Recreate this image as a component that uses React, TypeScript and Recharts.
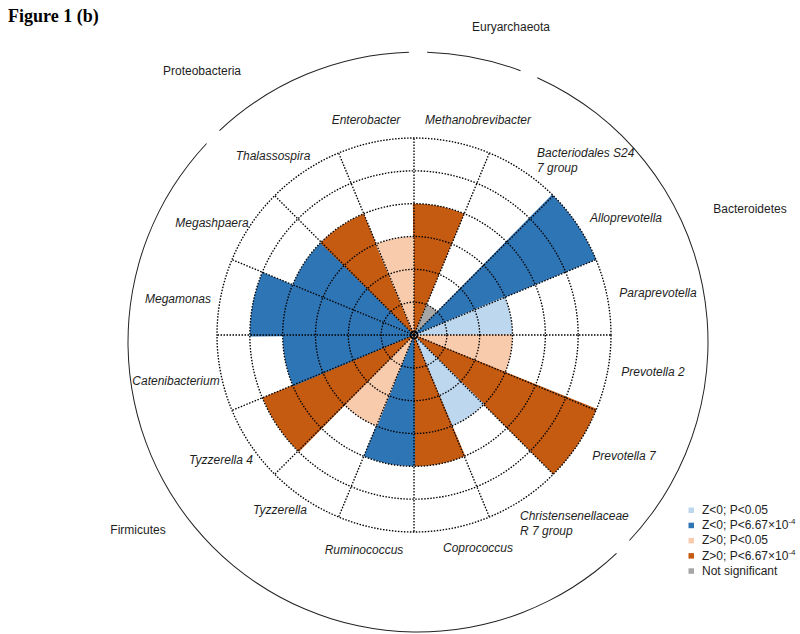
import React from 'react';
import {
  RadialBarChart,
  RadialBar,
  PolarAngleAxis,
  PolarRadiusAxis,
  PolarGrid,
  Cell,
  PieChart,
  Pie,
} from 'recharts';

// Genera, clockwise from 12 o'clock
const genera = [
  'Methanobrevibacter',
  'Bacteriodales S24\n7 group',
  'Alloprevotella',
  'Paraprevotella',
  'Prevotella 2',
  'Prevotella 7',
  'Christensenellaceae\nR 7 group',
  'Coprococcus',
  'Ruminococcus',
  'Tyzzerella',
  'Tyzzerella 4',
  'Catenibacterium',
  'Megamonas',
  'Megashpaera',
  'Thalassospira',
  'Enterobacter',
];
const levels = [4, 1, 6, 3, 3, 6, 3, 4, 4, 3, 5, 4, 5, 4, 4, 3];
const groups = [
  'up2', 'ns', 'down2', 'down1', 'up1', 'up2', 'down1', 'up2',
  'down2', 'up1', 'up2', 'down2', 'down2', 'down2', 'up2', 'up1',
];

const phyla = ['Euryarchaeota', 'Bacteroidetes', 'Firmicutes', 'Proteobacteria'];
const phylumSizes = [1, 5, 8, 2];

const ringTicks = [0, 1, 2, 3, 4, 5, 6];

const legendKeys = ['down1', 'down2', 'up1', 'up2', 'ns'];
const legendLabels = ['Z<0; P<0.05', 'Z<0; P<6.67×10', 'Z>0; P<0.05', 'Z>0; P<6.67×10', 'Not significant'];
const legendSup = ['', '-4', '', '-4', ''];

// styles / layout
const COLORS: Record<string, string> = {
  down1: '#BDD7EE',
  down2: '#2E75B6',
  up1: '#F8CBAD',
  up2: '#C55A11',
  ns: '#A6A6A6',
};
const FONT = '"Liberation Sans", Arial, sans-serif';
const TEXT = '#1e1e1e';
const CX = 414;
const CY = 335;
const OUTER_R = 197;
const START = 90;
const GAP = 3.6;

// text placement of genus labels: [x, baseline y, anchor]
const genusLabelPos: Record<string, [number, number, string]> = {
  'Methanobrevibacter': [478, 124, 'middle'],
  'Bacteriodales S24\n7 group': [537, 157, 'start'],
  'Alloprevotella': [626, 222, 'middle'],
  'Paraprevotella': [658, 297, 'middle'],
  'Prevotella 2': [653, 376, 'middle'],
  'Prevotella 7': [624, 460, 'middle'],
  'Christensenellaceae\nR 7 group': [520, 520, 'start'],
  'Coprococcus': [478, 552, 'middle'],
  'Ruminococcus': [364, 554, 'middle'],
  'Tyzzerella': [280, 514, 'middle'],
  'Tyzzerella 4': [221, 464, 'middle'],
  'Catenibacterium': [176, 385, 'middle'],
  'Megamonas': [178, 303, 'middle'],
  'Megashpaera': [212, 227, 'middle'],
  'Thalassospira': [273, 160, 'middle'],
  'Enterobacter': [366, 124, 'middle'],
};

const phylumLabelPos: Record<string, [number, number]> = {
  Euryarchaeota: [511, 31],
  Bacteroidetes: [750, 213],
  Firmicutes: [138, 534],
  Proteobacteria: [202, 75],
};

function renderGenusTick(props: any) {
  const name = String(props.payload?.value ?? '');
  const pos = genusLabelPos[name];
  if (!pos) return <g />;
  const lines = name.split('\n');
  return (
    <text
      x={pos[0]}
      y={pos[1]}
      textAnchor={pos[2] as any}
      fontFamily={FONT}
      fontStyle="italic"
      fontSize={12}
      fill={TEXT}
    >
      {lines.map((l, i) => (
        <tspan key={i} x={pos[0]} dy={i === 0 ? 0 : 15}>
          {l}
        </tspan>
      ))}
    </text>
  );
}

export default function App() {
  const data = genera.map((name, i) => ({ name, level: levels[i], group: groups[i] }));
  const step = 360 / genera.length;
  const boundaryAngles = genera.map((_, i) => START - i * step);
  const ringRadii = ringTicks.slice(1).map((t) => (t / ringTicks[ringTicks.length - 1]) * OUTER_R);

  let cum = 0;
  const arcs = phyla.map((p, i) => {
    const s = cum;
    cum += phylumSizes[i];
    return { name: p, start: START - s * step - GAP / 2, end: START - cum * step + GAP / 2 };
  });

  return (
    <div style={{ position: 'absolute', left: 0, top: 0, width: 800, height: 634, background: '#fff' }}>
      <div style={{ position: 'absolute', left: 0, top: 0 }}>
        <PieChart width={800} height={634}>
          {arcs.map((a) => (
            <Pie
              key={a.name}
              data={[{ name: a.name, value: 1 }]}
              dataKey="value"
              cx={413}
              cy={337}
              innerRadius={289.5}
              outerRadius={290.5}
              startAngle={a.start}
              endAngle={a.end}
              fill="#222"
              stroke="none"
              isAnimationActive={false}
            />
          ))}
        </PieChart>
      </div>
      <div style={{ position: 'absolute', left: 0, top: 0 }}>
        {/* sectors are drawn from each band start in the positive direction, so the
            angular range is shifted by one band to keep the first genus at 12-1 o'clock */}
        <RadialBarChart
          width={800}
          height={634}
          data={data}
          layout="centric"
          cx={CX}
          cy={CY}
          innerRadius={0}
          outerRadius={OUTER_R}
          startAngle={START - step}
          endAngle={START - step - 360}
          barCategoryGap={0}
          barGap={0}
        >
          <PolarAngleAxis type="category" dataKey="name" tick={renderGenusTick} axisLine={false} tickLine={false} />
          <PolarRadiusAxis type="number" domain={[0, 6]} ticks={ringTicks} tick={false} axisLine={false} />
          <RadialBar dataKey="level" isAnimationActive={false}>
            {data.map((d) => (
              <Cell key={d.name} fill={COLORS[d.group]} />
            ))}
          </RadialBar>
          <PolarGrid
            gridType="circle"
            polarAngles={boundaryAngles}
            polarRadius={ringRadii}
            stroke="#000"
            strokeWidth={1.35}
            strokeDasharray="1.5 1.5"
            {...({ zIndex: 1000 } as any)}
          />
          {/* small solid hub circle */}
          <PolarGrid
            gridType="circle"
            radialLines={false}
            polarAngles={[]}
            polarRadius={[3.5]}
            stroke="#000"
            strokeWidth={1.8}
            fill="none"
            {...({ zIndex: 1001 } as any)}
          />
        </RadialBarChart>
      </div>
      <svg width={800} height={634} style={{ position: 'absolute', left: 0, top: 0, pointerEvents: 'none' }}>
        <text x={8} y={22} fontFamily='"Liberation Serif", "Times New Roman", serif' fontWeight="bold" fontSize={18} fill="#000">
          Figure 1 (b)
        </text>
        {phyla.map((p) => (
          <text key={p} x={phylumLabelPos[p][0]} y={phylumLabelPos[p][1]} textAnchor="middle" fontFamily={FONT} fontSize={12} fill={TEXT}>
            {p}
          </text>
        ))}
        {legendKeys.map((k, i) => (
          <g key={k}>
            <rect x={688.5} y={507.5 + i * 15.2} width={5.5} height={5.5} fill={COLORS[k]} />
            <text x={702} y={514 + i * 15.2} fontFamily={FONT} fontSize={12} fill={TEXT}>
              {legendLabels[i]}
              {legendSup[i] && (
                <tspan dy={-5} fontSize={8}>
                  {legendSup[i]}
                </tspan>
              )}
            </text>
          </g>
        ))}
      </svg>
    </div>
  );
}
